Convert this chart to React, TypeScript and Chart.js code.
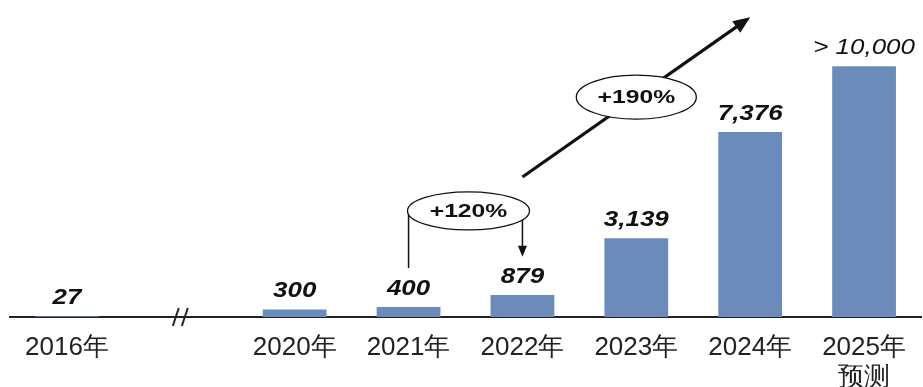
import { useEffect, useRef } from "react";
import { Chart, registerables } from "chart.js";

Chart.register(...registerables);

const categories: (string | string[])[] = ["2016年", "", "2020年", "2021年", "2022年", "2023年", "2024年", ["2025年", "预测"]];
const values: (number | null)[] = [27, null, 300, 400, 879, 3139, 7376, 10000];
const valueLabels = ["27", "", "300", "400", "879", "3,139", "7,376", "> 10,000"];
const growthLabels = ["+120%", "+190%"];

const FONT = '"Liberation Sans", Arial, sans-serif';

function drawStretchedText(ctx: CanvasRenderingContext2D, text: string, x: number, y: number, font: string, sx: number) {
  ctx.save();
  ctx.translate(x, y);
  ctx.scale(sx, 1);
  ctx.font = font;
  ctx.textAlign = "center";
  ctx.fillStyle = "#111";
  ctx.fillText(text, 0, 0);
  ctx.restore();
}

const annotPlugin = {
  id: "annot",
  afterDatasetsDraw(chart: any) {
    const ctx: CanvasRenderingContext2D = chart.ctx;
    const meta = chart.getDatasetMeta(0);
    const xs = chart.scales.x;
    const ys = chart.scales.y;

    // value labels
    meta.data.forEach((bar: any, i: number) => {
      if (values[i] == null) return;
      const last = i === values.length - 1;
      ctx.save();
      ctx.textBaseline = "alphabetic";
      drawStretchedText(ctx, valueLabels[i], bar.x, bar.y - 12, `italic ${last ? "normal" : "bold"} 22px ${FONT}`, 1.18);
      ctx.restore();
    });

    // axis break mark
    const bx = xs.getPixelForValue(1);
    const ay = xs.top;
    ctx.save();
    ctx.strokeStyle = "#222";
    ctx.lineWidth = 2;
    [-5, 4].forEach((d) => {
      ctx.beginPath();
      ctx.moveTo(bx + d - 3, ay + 9);
      ctx.lineTo(bx + d + 3, ay - 9);
      ctx.stroke();
    });
    ctx.restore();

    // +120% bracket
    const x1 = meta.data[3].x;
    const x2 = meta.data[4].x;
    const cy1 = ys.getPixelForValue(4230);
    const leftBottom = ys.getPixelForValue(1950);
    const tip = ys.getPixelForValue(2400);
    ctx.save();
    ctx.strokeStyle = "#111";
    ctx.fillStyle = "#111";
    ctx.lineWidth = 1.5;
    ctx.beginPath();
    ctx.moveTo(x1, cy1);
    ctx.lineTo(x1, leftBottom);
    ctx.moveTo(x2, cy1);
    ctx.lineTo(x2, tip - 9);
    ctx.stroke();
    ctx.beginPath();
    ctx.moveTo(x2, tip);
    ctx.lineTo(x2 - 4.5, tip - 11);
    ctx.lineTo(x2 + 4.5, tip - 11);
    ctx.closePath();
    ctx.fill();
    const ecx1 = (x1 + x2) / 2 + 3;
    ctx.beginPath();
    ctx.ellipse(ecx1, cy1, 61, 19, 0, 0, Math.PI * 2);
    ctx.fillStyle = "#fff";
    ctx.fill();
    ctx.lineWidth = 1.3;
    ctx.stroke();
    ctx.textBaseline = "middle";
    drawStretchedText(ctx, growthLabels[0], ecx1, cy1 + 1, `bold 19px ${FONT}`, 1.3);
    ctx.restore();

    // +190% arrow
    const sx = meta.data[4].x;
    const sy = ys.getPixelForValue(5580);
    const ex = meta.data[6].x;
    const ey = ys.getPixelForValue(11950);
    const ang = Math.atan2(ey - sy, ex - sx);
    const hl = 17;
    const hw = 7;
    ctx.save();
    ctx.strokeStyle = "#111";
    ctx.fillStyle = "#111";
    ctx.lineWidth = 3.2;
    ctx.beginPath();
    ctx.moveTo(sx, sy);
    ctx.lineTo(ex - Math.cos(ang) * (hl - 2), ey - Math.sin(ang) * (hl - 2));
    ctx.stroke();
    ctx.beginPath();
    ctx.moveTo(ex, ey);
    const bxh = ex - Math.cos(ang) * hl;
    const byh = ey - Math.sin(ang) * hl;
    ctx.lineTo(bxh + Math.sin(ang) * hw, byh - Math.cos(ang) * hw);
    ctx.lineTo(bxh - Math.sin(ang) * hw, byh + Math.cos(ang) * hw);
    ctx.closePath();
    ctx.fill();
    const ecx2 = (sx + ex) / 2;
    const ecy2 = (sy + ey) / 2;
    ctx.beginPath();
    ctx.ellipse(ecx2, ecy2, 60, 22, 0, 0, Math.PI * 2);
    ctx.fillStyle = "#fff";
    ctx.fill();
    ctx.lineWidth = 1.3;
    ctx.stroke();
    ctx.textBaseline = "middle";
    drawStretchedText(ctx, growthLabels[1], ecx2, ecy2 + 1, `bold 19px ${FONT}`, 1.3);
    ctx.restore();
  },
};

export default function App() {
  const ref = useRef<HTMLCanvasElement>(null);
  useEffect(() => {
    if (!ref.current) return;
    const chart = new Chart(ref.current, {
      type: "bar",
      data: {
        labels: categories as any,
        datasets: [
          {
            data: values as any,
            backgroundColor: "#6b8bba",
            barPercentage: 0.56,
            categoryPercentage: 1,
          },
        ],
      },
      options: {
        responsive: false,
        animation: false,
        layout: { padding: { top: 1, left: 10, right: 2, bottom: 0 } },
        plugins: { legend: { display: false }, tooltip: { enabled: false } },
        scales: {
          x: {
            grid: { display: false, drawTicks: false },
            border: { display: true, color: "#222", width: 2 },
            ticks: {
              color: "#222",
              font: { family: FONT, size: 26, lineHeight: 1.15 },
              padding: 16,
              autoSkip: false,
              maxRotation: 0,
            },
            afterFit: (scale: any) => {
              scale.height = 70;
            },
          },
          y: { display: false, min: 0, max: 12600 },
        },
      },
      plugins: [annotPlugin],
    });
    return () => chart.destroy();
  }, []);
  return (
    <div style={{ position: "fixed", left: 0, top: 0, width: 923, height: 387, background: "#fff" }}>
      <canvas ref={ref} width={923} height={387} />
    </div>
  );
}
